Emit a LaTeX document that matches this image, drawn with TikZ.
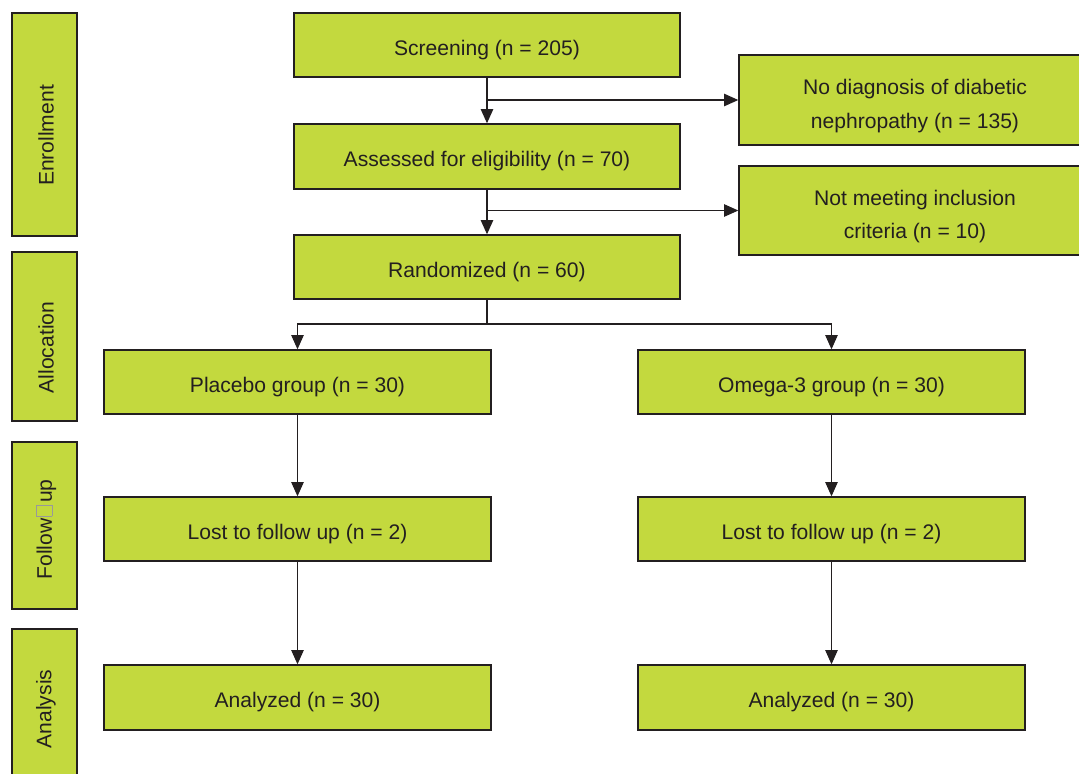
\documentclass[tikz,border=0pt]{standalone}
\usepackage{fontspec}
\setmainfont{Liberation Sans}
\usetikzlibrary{arrows.meta}
\definecolor{boxgreen}{RGB}{195,217,62}
\definecolor{inkgray}{RGB}{35,31,32}
\newcommand{\missbox}{\hspace{0.1em}{\color{black!40}\setlength{\fboxrule}{0.5pt}\setlength{\fboxsep}{0pt}\fbox{\makebox[0.46em]{\rule{0pt}{0.72em}}}}\hspace{0.1em}}
\tikzset{
  flowbox/.style={draw=inkgray, line width=0.8pt, fill=boxgreen, text=inkgray,
    font=\fontsize{12}{19}\selectfont, align=center, inner sep=0pt,
    text height=14pt, text depth=2.5pt},
  twoline/.style={text height=34.5pt, text depth=2.5pt},
  stagebox/.style={draw=inkgray, line width=0.8pt, fill=boxgreen, minimum width=1.3cm},
  stagetext/.style={rotate=90, text=inkgray, font=\fontsize{12}{14}\selectfont, inner sep=0pt},
  link/.style={draw=inkgray, line width=0.65pt},
  arr/.style={link, -{Triangle[length=8pt, width=7pt]}}
}
\begin{document}
\begin{tikzpicture}
\useasboundingbox (0, 0) rectangle (21.58, -15.46);
% stage labels
 \node [stagebox, minimum height=4.46cm] (enroll) at (0.89, -2.49) {};
 \node [stagetext] (enrolltxt) at (0.92, -2.71) {Enrollment};
 \node [stagebox, minimum height=3.38cm] (alloc) at (0.89, -6.73) {};
 \node [stagetext] (alloctxt) at (0.92, -6.95) {Allocation};
 \node [stagebox, minimum height=3.34cm] (follow) at (0.89, -10.51) {};
 \node [stagetext] (followtxt) at (0.92, -10.59) {Follow\missbox up};
 \node [stagebox, minimum height=3.36cm] (analysis) at (0.89, -14.26) {};
 \node [stagetext] (analysistxt) at (0.92, -14.18) {Analysis};
% main column
 \node [flowbox, minimum width=7.72cm, minimum height=1.28cm] (screen) at (9.74, -0.90) {Screening (n = 205)};
 \node [flowbox, minimum width=7.72cm, minimum height=1.30cm] (assess) at (9.74, -3.13) {Assessed for eligibility (n = 70)};
 \node [flowbox, minimum width=7.72cm, minimum height=1.28cm] (random) at (9.74, -5.34) {Randomized (n = 60)};
% exclusions
 \node [flowbox, twoline, minimum width=7.04cm, minimum height=1.80cm] (nodiag) at (18.30, -2.00)
   {No diagnosis of diabetic\\nephropathy (n = 135)};
 \node [flowbox, twoline, minimum width=7.04cm, minimum height=1.78cm] (noincl) at (18.30, -4.21)
   {Not meeting inclusion\\criteria (n = 10)};
% the two arms
 \node [flowbox, minimum width=7.74cm, minimum height=1.28cm] (placebo) at (5.95, -7.64) {Placebo group (n = 30)};
 \node [flowbox, minimum width=7.74cm, minimum height=1.28cm] (omega) at (16.63, -7.64) {Omega-3 group (n = 30)};
 \node [flowbox, minimum width=7.74cm, minimum height=1.28cm] (lostp) at (5.95, -10.58) {Lost to follow up (n = 2)};
 \node [flowbox, minimum width=7.74cm, minimum height=1.28cm] (losto) at (16.63, -10.58) {Lost to follow up (n = 2)};
 \node [flowbox, minimum width=7.74cm, minimum height=1.30cm] (anap) at (5.95, -13.95) {Analyzed (n = 30)};
 \node [flowbox, minimum width=7.74cm, minimum height=1.30cm] (anao) at (16.63, -13.95) {Analyzed (n = 30)};
% arrows
 \draw [arr] (screen) -- (assess);
 \draw [arr] (screen.south |- nodiag.west) -- (nodiag.west);
 \draw [arr] (assess) -- (random);
 \draw [arr] (assess.south |- noincl.west) -- (noincl.west);
 \coordinate (split) at (9.74, -6.48);
 \draw [link] (random) -- (split);
 \draw [arr] (split) -| (placebo.north);
 \draw [arr] (split) -| (omega.north);
 \draw [arr] (placebo) -- (lostp);
 \draw [arr] (omega) -- (losto);
 \draw [arr] (lostp) -- (anap);
 \draw [arr] (losto) -- (anao);
\end{tikzpicture}
\end{document}
